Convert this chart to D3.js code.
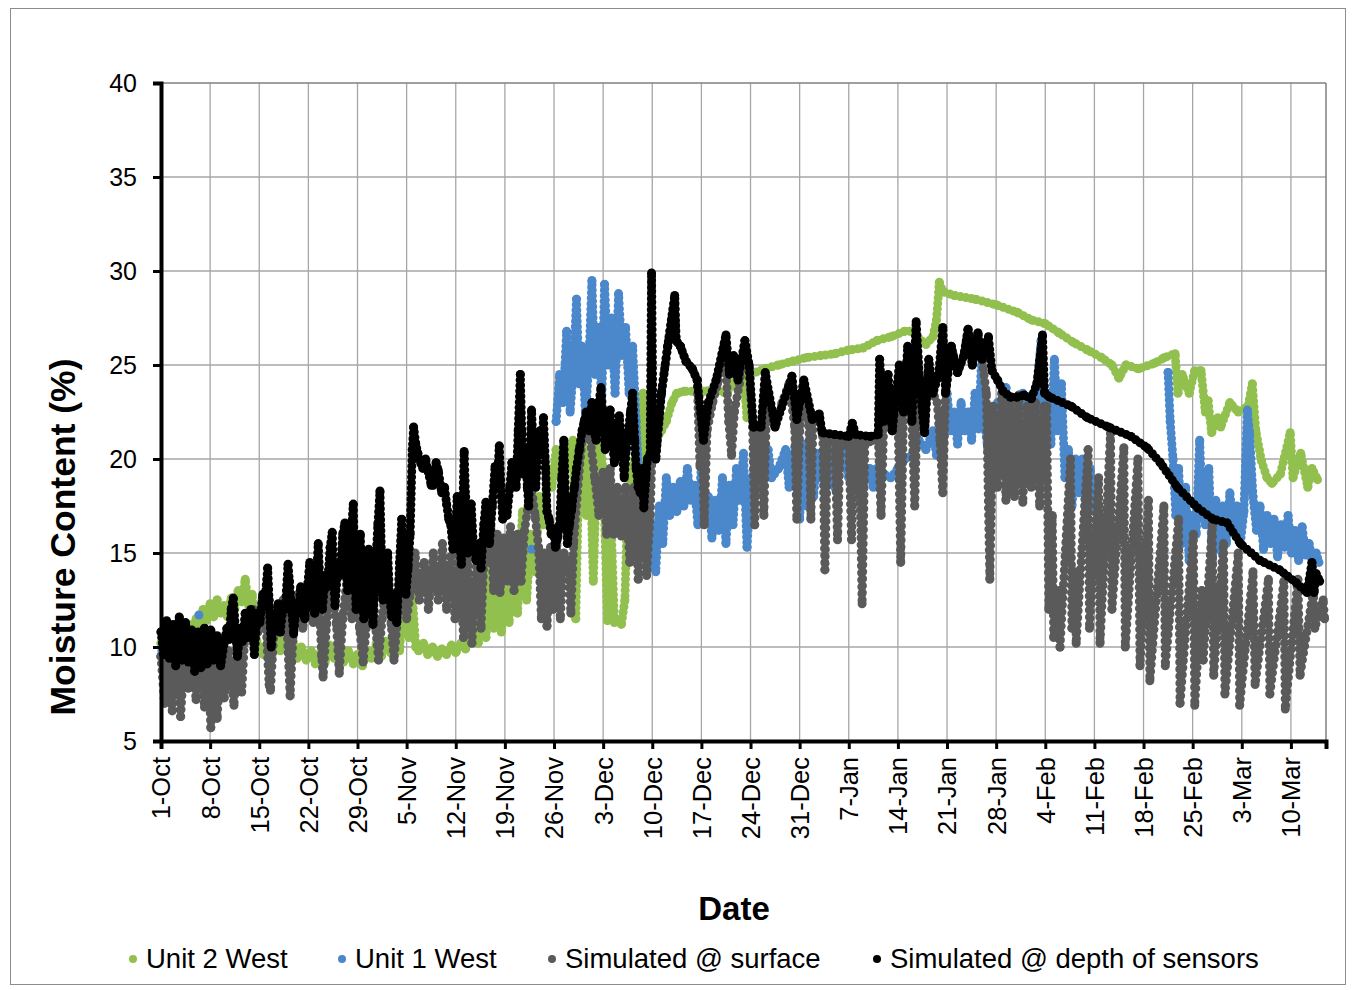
<!DOCTYPE html>
<html>
<head>
<meta charset="utf-8">
<script src="https://cdn.jsdelivr.net/npm/d3@7"></script>
<style>
  body { margin: 0; background: #fff; }
  svg { font-family: Arial, "Liberation Sans", sans-serif; }
</style>
</head>
<body>
<div id="chart"></div>
<script>
// days since 1-Oct, moisture content (%)
var tickLabels = ["1-Oct", "8-Oct", "15-Oct", "22-Oct", "29-Oct", "5-Nov", "12-Nov", "19-Nov", "26-Nov",
  "3-Dec", "10-Dec", "17-Dec", "24-Dec", "31-Dec", "7-Jan", "14-Jan", "21-Jan", "28-Jan", "4-Feb",
  "11-Feb", "18-Feb", "25-Feb", "3-Mar", "10-Mar"];
var yTicks = [5, 10, 15, 20, 25, 30, 35, 40];

var unit2West = [[0,10.2],[0.5,9.7],[1,10.3],[1.5,9.5],[2,10.6],[2.5,9.8],[3,10.8],[3.5,10],[4,11.2],[4.5,10.4],
  [5,11.5],[5.5,10.8],[6,12],[6.5,11.4],[7,12.3],[7.5,11.6],[8,12.5],[8.5,11.8],[9,12.2],[9.5,11.6],[10,12.6],
  [10.5,12],[11,13],[11.5,12.4],[12,13.6],[12.5,12.2],[13,12.8],[13.5,10.5],[14,10],[14.6,9.6],[15.2,10.3],
  [15.8,9.5],[16.4,10.4],[17,9.8],[17.6,11.2],[18.2,9.7],[18.8,10.3],[19.4,9.4],[20,10],[20.7,9.3],[21.4,9.8],
  [22,9.1],[22.7,9.7],[23.4,9.2],[24,10.1],[24.7,9.4],[25.4,10],[26,9.2],[26.7,9.8],[27.4,9.1],[28,9.6],[28.7,9],
  [29.4,9.8],[30,9.4],[30.7,10.2],[31.4,9.5],[32,10.3],[32.7,9.7],[33.4,10.5],[34,9.8],[34.7,13.7],[35.3,10.5],
  [35.8,12.8],[36.3,10],[36.7,9.8],[37.4,10.2],[38,9.6],[38.7,10],[39.4,9.5],[40,9.9],[40.7,9.6],[41.4,10.1],
  [42,9.7],[42.7,10.2],[43.4,9.9],[44,10.3],[44.7,12],[45.2,10.2],[45.8,14.5],[46.3,10.5],[46.9,16.5],[47.4,11],
  [48,14.8],[48.5,10.8],[49,13],[49.6,11.3],[50.2,15],[50.8,11.8],[51.5,17.2],[52.1,12.5],[52.7,16],[53.3,14],
  [53.9,18],[54.5,16.5],[55.1,19.5],[55.7,18.5],[56.3,20.5],[56.9,19.3],[57.5,20.8],[58.1,19.6],[58.7,21],
  [59.1,11.5],[59.6,20.5],[60.1,21.2],[60.6,17],[61.1,20.5],[61.6,13.5],[62.1,19.8],[62.6,21.5],[63.1,18.5],
  [63.6,11.4],[64.1,17],[64.6,11.3],[65.1,11.4],[65.6,11.2],[66.1,12.5],[66.5,18],[67.2,19.5],[67.8,20.6],
  [68.3,19],[68.7,23.5],[69.2,20.5],[69.8,20.3],[70.5,21],[71.3,21.5],[72,22],[72.8,23],[73.5,23.5],[74.5,23.6],
  [76,23.6],[77.5,23.6],[79,23.7],[80.5,23.5],[82,24.2],[83,24.5],[83.5,22.2],[84,24.5],[86,24.8],[88,25],
  [90,25.2],[92,25.4],[94,25.5],[96,25.6],[98,25.8],[100,25.9],[102,26.3],[104,26.5],[106,26.8],[107,26.8],
  [108,26.4],[109,26.1],[110,26.5],[110.5,27.4],[110.9,29.4],[111.4,28.9],[113,28.7],[116,28.5],[119,28.2],
  [122,27.8],[124,27.4],[126,27.2],[128,26.7],[130,26.2],[132,25.8],[134,25.4],[135.5,25],[136.5,24.3],
  [137.5,25],[139.3,24.8],[141.6,25.1],[143,25.4],[144.5,25.6],[144.9,23.5],[145.5,24.5],[146.5,23.5],
  [147.3,24.7],[148.2,24.7],[148.8,22.5],[149.2,23.1],[149.7,21.4],[150.6,22.2],[151,21.7],[152.3,23],
  [153.5,22.5],[154.9,22.8],[155.5,24],[156,21.5],[156.8,19.9],[157.6,19],[158.3,18.7],[159.5,19.2],
  [160.9,21.4],[161.3,19],[162.4,20.3],[163.4,18.5],[164,19.5],[164.8,18.9]];

var unit1West = [[0,9.5],[0.3,10.2],[null,null],[5.4,11.7],[null,null],[25.3,10],[null,null],[52.8,15.2],[null,null],
  [56.3,22],[56.8,24.5],[57.3,23],[57.8,26.8],[58.3,22.5],[58.8,25],[59.2,28.5],[59.6,24],[60,26],[60.5,22.2],
  [61,25.5],[61.4,29.5],[61.8,24.5],[62.3,27],[62.8,23],[63.2,29.3],[63.7,25],[64.2,27.5],[64.7,23.5],[65.2,28.8],
  [65.7,25.5],[66.2,27],[66.7,23.5],[67.2,26],[67.7,22],[68.2,18],[68.6,15.5],[69,17],[69.5,14.2],[70,16.5],
  [70.5,14],[71,17.5],[71.5,15.5],[72,19],[72.5,17],[73,18.5],[73.5,17.2],[74,18.8],[74.5,17.5],[75,19.5],
  [75.5,17.8],[76,18.6],[76.5,16.5],[77,19.7],[77.5,17.5],[78,18],[78.5,15.8],[79,17.8],[79.5,16.2],[80,19],
  [80.5,15.5],[81,18.6],[81.5,16.5],[82,19.5],[82.5,17.8],[83,20.3],[83.5,15.3],[84,18.5],[84.5,19.5],[85,18.2],
  [86,19.5],[86.5,20.5],[87,19],[88,19.5],[89,20.5],[89.5,18.5],[90,20],[90.5,21],[91,16.8],[91.5,20.8],[92,17.5],
  [92.5,21.2],[93,18],[93.5,20.3],[94,19],[95,20.5],[96,18.5],[97,20.8],[98,19],[99,20],[100,18.6],[101,19.5],
  [101.5,18.5],[102,19.5],[103,19.2],[104,19],[105,19.5],[106,20],[107,20.2],[108,21],[109,20.5],[110,21.5],
  [110.5,20.2],[111,22.5],[111.5,21],[112,23.5],[112.5,21.5],[113,22.5],[113.5,20.8],[114,23],[114.5,21.5],
  [115,22.5],[115.5,21],[116,23.5],[116.5,21.6],[117,26],[117.3,22],[117.8,20.6],[118.2,18.9],[118.6,21],
  [119.2,23],[119.8,20.2],[120.4,23.8],[121,20.5],[121.6,23.2],[122.2,19.8],[122.8,23.5],[123.4,19.3],[124,23],
  [124.6,20.5],[125,24.5],[125.4,26.3],[125.8,21],[126.3,23.5],[126.8,20.8],[127.3,25.3],[127.8,21.5],[128.3,24],
  [128.8,19],[129.3,20.5],[129.8,17.5],[130.3,20],[130.8,18.2],[131.3,20],[131.8,17],[132.4,19.5],[133,17.5],
  [null,null],
  [143.5,24.6],[143.8,22],[144.2,20],[144.6,17],[145,19.5],[145.5,15.5],[146,18.5],[146.5,14.6],[147,17],
  [147.5,16],[148,21],[148.3,18],[148.8,16.5],[149.3,19.5],[149.8,14.5],[150.3,17.8],[150.8,15.2],[151.3,17.5],
  [151.8,15.5],[152.3,18.2],[152.8,16.5],[153.3,17.5],[153.8,15.5],[154.3,17.2],[154.8,22.6],[155.1,21.4],
  [155.6,18],[156.1,16.2],[156.6,17.5],[157.1,15.2],[157.6,17],[158.1,15.5],[158.6,16.8],[159.1,14.8],
  [159.6,16.5],[160.1,15.3],[160.6,17],[161.1,15],[161.6,16.2],[162.1,14.6],[162.6,16.4],[163.1,14.9],
  [163.6,15.5],[164.1,14.4],[164.6,15],[165,14.5]];

var simSurface = [[0,9.5],[0.5,7],[1,9.8],[1.6,6.6],[2.2,10],[2.8,6.3],[3.3,9.5],[3.9,7.8],[4.4,9.6],[5,7.2],
  [5.6,9.8],[6.2,6.8],[6.7,9.5],[7.1,5.7],[7.6,9.4],[8,6.2],[8.5,9.6],[9,7.3],[9.6,9.8],[10.4,6.9],[10.9,10.5],
  [11.5,7.6],[12,11],[12.6,10.5],[13.2,12],[13.8,10.8],[14.4,12.5],[15,11],[15.4,8],[15.6,7.7],[16.2,11.5],
  [16.8,10.8],[17.4,12.5],[18,10.7],[18.4,7.4],[18.8,10.5],[19.5,12.8],[20.2,11],[21,13],[21.7,11.3],[22.4,13.5],
  [22.9,9.5],[23.1,8.4],[23.6,11.2],[24.3,13.5],[25,11.2],[25.4,8.6],[25.9,11.5],[26.6,14],[27.2,11.5],
  [27.8,13.8],[28.3,11],[28.8,9.2],[29.3,11.2],[30,13.5],[30.6,11],[31,9.3],[31.5,11.5],[32.2,13.8],[32.8,11.2],
  [33.2,9.3],[33.8,12],[34.4,14],[35,11.5],[35.6,13],[36.2,15],[36.8,12.5],[37.5,14.5],[38.1,12],[38.8,15],
  [39.5,12.5],[40.1,15.5],[40.7,12],[41.3,14.8],[41.9,11.5],[42.5,15.3],[43.1,10.5],[43.7,15],[44.3,10.2],
  [45,14.6],[45.6,11],[46.1,15.5],[46.5,14.5],[47,16.4],[47.4,13],[47.9,16],[48.3,12.9],[48.8,15.8],[49.3,13.5],
  [49.8,16.4],[50.3,13],[50.8,16],[51.3,13.5],[51.8,16.2],[52.3,17.5],[52.8,18.5],[53.3,17],[53.8,15.3],
  [54.2,11.5],[54.6,15],[55,11.1],[55.5,15.3],[55.9,12],[56.4,15.5],[56.9,11.5],[57.4,15],[58,14.6],[58.4,11.8],
  [58.8,15.5],[59.5,19],[60,21],[60.6,22],[61.2,21],[61.8,19],[62.4,17],[63,19.3],[63.5,16],[64,19.5],[64.5,16],
  [65,18.5],[65.6,15.9],[66.2,18.5],[66.8,14.5],[67.4,18.5],[68,13.6],[68.6,18],[69.2,13.8],[69.7,17],[70.1,22],
  [70.5,20],[71.3,23.5],[72.2,26],[73.2,28.5],[73.4,26.3],[74,26],[74.8,25.2],[75.7,24.8],[76.4,24.2],
  [76.8,19.6],[77.1,21],[77.4,16.5],[77.8,21.5],[78.6,23],[79.3,24],[80.3,26.2],[80.9,22],[81.3,20.2],
  [81.7,22.5],[82.4,24],[83.2,26],[83.8,24.8],[84.3,21.7],[84.6,16.5],[85,21.5],[85.5,21.7],[85.9,17],[86.3,23],
  [87.5,21.7],[88.5,23],[89.5,24],[90.3,21.7],[90.6,16.8],[91,21.5],[91.6,24],[92.3,22],[92.6,16.8],[92.9,22],
  [93.8,22.2],[94.3,21.2],[94.6,14.1],[95,21],[96,21],[96.4,15.7],[96.8,21],[98,20.8],[98.4,15.7],[98.8,21],
  [99.5,21],[99.9,12.3],[100.3,20.8],[101.5,21],[102.2,21.2],[102.6,17],[103,22],[104.2,21.5],[105,22.6],
  [105.4,14.5],[105.8,22.5],[106.4,25.5],[107,22],[107.4,17.5],[107.8,23.5],[108.8,21.4],[109.4,25],[110,23.5],
  [110.6,23],[111,21],[111.4,18.2],[111.8,23.5],[112.6,26],[113.5,24.6],[114.4,25.5],[115,26.9],[115.6,25],
  [116.4,26.7],[117,25.3],[117.6,23.5],[118.1,13.6],[118.6,22.8],[119.2,18.5],[119.8,23.5],[120.4,17.8],[121,23],
  [121.6,18],[122.2,23.4],[122.8,17.7],[123.4,22.8],[124,18.5],[124.6,23],[125.2,17.5],[125.8,22.8],[126.2,22.8],
  [126.5,12],[127,17],[127.2,10.5],[128,13],[128.1,10],[129.6,20],[129.8,11],[130.3,14],[130.4,10.2],[132.1,20.5],
  [132.3,11],[133.6,19],[133.8,10.2],[135.3,21.4],[135.5,12],[137.2,20.6],[137.4,10],[139.2,20],[139.5,9],
  [140.7,17.8],[140.9,8.2],[142.9,17.5],[143.1,9],[145,16.8],[145.2,7],[147.1,16],[147.3,6.9],[148.3,13],
  [148.5,9.3],[149.8,16.5],[150,8.5],[151.4,15.5],[151.6,7.5],[153.5,15],[153.7,6.9],[155.6,14],[155.9,8],
  [157.8,13.6],[158,7.5],[160,13.5],[160.2,6.7],[162,13.6],[162.3,8.5],[164.2,13],[164.4,11],[165.6,12.5],
  [165.8,11.5]];

var simDepth = [[0,10.8],[0.4,9.6],[0.8,11.4],[1.2,9.4],[1.7,11.2],[2.1,9],[2.6,11.6],[3,9.3],[3.5,11.3],[3.9,9.2],
  [4.4,10.9],[4.8,8.7],[5.3,10.8],[5.7,8.9],[6.2,11],[6.6,9.1],[7.1,10.9],[7.5,9.3],[8,10.6],[8.5,9],[9,10.2],
  [9.4,11],[9.7,10.4],[10,12],[10.3,12.6],[10.6,11],[10.9,9.5],[11.3,11],[11.6,10.3],[12,11.8],[12.4,10.5],
  [12.8,12],[13.1,10.8],[13.3,9.6],[13.7,11.8],[14.1,11.3],[14.5,12.8],[14.8,12.4],[15.2,14.2],[15.4,12.5],
  [15.7,10],[16.1,11.5],[16.4,11],[16.7,12.3],[17,10.8],[17.4,12.2],[17.7,12],[18.1,14.4],[18.3,13.5],[18.6,12],
  [18.9,10.7],[19.3,12.3],[19.6,11.8],[19.9,13.2],[20.2,12],[20.5,11.5],[20.9,13.3],[21.2,14.5],[21.5,12.5],
  [21.9,11.8],[22.2,14],[22.4,15.5],[22.7,13],[23,12],[23.4,13.8],[23.7,13.2],[24.1,15.3],[24.4,16.1],[24.6,13.5],
  [24.8,12.2],[25.2,14.3],[25.5,13.8],[25.9,16],[26.2,16.6],[26.4,14],[26.6,13],[27,15.5],[27.4,17.6],[27.6,14],
  [27.8,12],[28.1,14.2],[28.4,16],[28.6,13],[28.9,11.5],[29.3,13.5],[29.6,15.2],[29.9,12.8],[30.2,11.2],
  [30.6,14.5],[30.9,16.5],[31.2,18.3],[31.4,15],[31.6,12.5],[32,14],[32.3,15],[32.6,12.5],[32.9,11.6],[33.3,12.8],
  [33.6,11.3],[34,14.5],[34.3,16.8],[34.6,13.5],[34.9,12.8],[35.2,14.2],[35.5,16],[35.8,20.5],[36,21.7],
  [36.3,20.8],[36.6,20.3],[37,19.8],[37.3,19.5],[37.7,20],[38.1,19.3],[38.5,18.6],[38.8,18.6],[39.2,19.8],
  [39.5,19.4],[40,18.2],[40.4,18.5],[40.7,17.6],[41,16.8],[41.3,16.5],[41.6,15.2],[41.9,15.5],[42.2,18],[42.5,16],
  [42.8,14.4],[43,17.5],[43.2,20.4],[43.4,18],[43.7,15],[44,16.2],[44.2,17.6],[44.5,15.5],[44.9,14.6],[45.3,15.5],
  [45.6,14.2],[46,16.5],[46.3,17.7],[46.6,16],[46.8,15.5],[47.2,17.5],[47.6,19.6],[47.9,18.5],[48.2,20.7],
  [48.5,18],[48.7,16.8],[49,17.8],[49.3,17],[49.7,18.5],[50,19.8],[50.3,19],[50.6,18.5],[50.9,21.5],[51.2,24.5],
  [51.4,21.5],[51.6,19.2],[51.8,20.5],[52,20.1],[52.2,18.5],[52.4,17.5],[52.6,20.5],[52.8,22.6],[53.1,20],
  [53.4,18.5],[53.7,20.5],[54,21.5],[54.3,20.5],[54.5,22.2],[54.8,19.5],[55,17.2],[55.3,16.8],[55.6,16],
  [55.9,16.3],[56.2,15.3],[56.5,15.8],[56.8,16.5],[57.1,19],[57.4,21],[57.6,18],[57.9,15.5],[58.2,16.5],
  [58.5,17.3],[58.9,18.5],[59.2,19.5],[59.6,20.5],[60,21.5],[60.3,22],[60.6,22.5],[61,21.5],[61.4,23],[61.7,21.5],
  [62,21],[62.4,23],[62.7,23.8],[63,22],[63.3,20.5],[63.7,22],[64,22.6],[64.3,21],[64.6,19.8],[65,21.5],
  [65.3,22.3],[65.7,20.5],[66,19],[66.3,20.5],[66.6,21.5],[66.9,22.5],[67.2,23.5],[67.5,21],[67.7,19.5],[68,18.5],
  [68.3,18.2],[68.6,19.5],[68.8,17.4],[69.1,19],[69.3,20],[69.7,20.3],[69.9,29.9],[70.1,22],[70.5,20],[71.3,23.5],
  [72.2,26],[73.2,28.7],[73.4,26.3],[74,26],[74.8,25.2],[75.7,24.8],[76.4,24.2],[77.3,21],[78,23],[79.1,24.2],
  [80.5,26.6],[81,24.5],[81.6,25.5],[82.2,24.2],[83.2,26.3],[83.8,25],[84.4,21.7],[85.5,21.7],[86.1,24.6],
  [87.5,21.7],[89.9,24.4],[90.6,22.1],[91.6,24.2],[92.8,22.1],[93.8,22.4],[94.2,21.4],[96,21.3],[98,21.2],
  [98.5,21.9],[99,21.3],[101,21.2],[102.2,21.3],[102.4,25.3],[103,22],[103.6,24.5],[104.2,21.5],[105.2,25],
  [105.8,22.5],[106.4,26],[107,22],[107.6,27.3],[108.2,23.5],[108.8,21.4],[109.4,25.3],[110,23.5],[110.8,24.5],
  [111.4,27],[111.8,23.5],[112.6,26],[113.5,24.6],[114.4,25.5],[115,26.9],[115.6,25],[116.4,26.7],[117,25.3],
  [117.9,26.5],[118.4,24.7],[119.2,24.2],[120,23.6],[121,23.3],[122,23.3],[123,23.4],[124,23.2],[124.8,24],
  [125.6,26.6],[125.9,23.5],[126.6,23.3],[129.7,22.8],[132,22.2],[135,21.7],[138.2,21.2],[140.5,20.6],
  [142.4,19.8],[144.8,18.5],[147.7,17.4],[149.9,16.8],[151.9,16.6],[153.8,15.5],[156.6,14.6],[159.4,14.1],
  [161.8,13.4],[163.3,12.9],[164,14.5],[164.3,12.9],[164.6,13.9],[165.1,13.5]];

var seriesNames = ["Unit 2 West", "Unit 1 West", "Simulated @ surface", "Simulated @ depth of sensors"];
var seriesColors = ["#92c04f", "#4a87cb", "#5a5a5a", "#000000"];
var seriesData = [unit2West, unit1West, simSurface, simDepth];
var dotGap = [5.5, 5.5, 7, 5.5];

var width = 1353, height = 990;
var margin = { top: 83, right: 27, bottom: 249, left: 161 };
var w = width - margin.left - margin.right,
  h = height - margin.top - margin.bottom;

var svg = d3.select("#chart").append("svg")
  .attr("width", width)
  .attr("height", height);

// outer frame
svg.append("rect")
  .attr("x", 10.5).attr("y", 8.5)
  .attr("width", 1335).attr("height", 976)
  .attr("fill", "none")
  .attr("stroke", "#8c8c8c")
  .attr("stroke-width", 1);

var g = svg.append("g")
  .attr("transform", "translate(" + margin.left + "," + margin.top + ")");

var x = d3.scaleLinear().domain([0, 166]).range([0, w]);
var y = d3.scaleLinear().domain([5, 40]).range([h, 0]);
var tickDays = tickLabels.map(function (d, i) { return i * 7; });

// grid
g.append("g").selectAll("line").data(tickDays.slice(1)).enter().append("line")
  .attr("x1", function (d) { return x(d); }).attr("x2", function (d) { return x(d); })
  .attr("y1", 0).attr("y2", h)
  .attr("stroke", "#a6a6a6").attr("stroke-width", 1.3);
g.append("g").selectAll("line").data(yTicks.slice(1)).enter().append("line")
  .attr("x1", 0).attr("x2", w)
  .attr("y1", function (d) { return y(d); }).attr("y2", function (d) { return y(d); })
  .attr("stroke", function (d) { return d == 40 ? "#7f7f7f" : "#a6a6a6"; })
  .attr("stroke-width", 1.3);
g.append("line")
  .attr("x1", w).attr("x2", w).attr("y1", 0).attr("y2", h)
  .attr("stroke", "#7f7f7f").attr("stroke-width", 1.5);

// series: hourly readings shown as dense dots
var line = d3.line()
  .defined(function (d) { return d[1] != null; })
  .x(function (d) { return x(d[0]); })
  .y(function (d) { return y(d[1]); });

seriesData.forEach(function (data, i) {
  var s = g.append("g");
  s.append("path")
    .datum(data)
    .attr("fill", "none")
    .attr("stroke", seriesColors[i])
    .attr("stroke-width", 9)
    .attr("stroke-linecap", "round")
    .attr("stroke-dasharray", "0 " + dotGap[i])
    .attr("d", line);
  s.selectAll("circle").data(data.filter(function (d) { return d[1] != null; }))
    .enter().append("circle")
    .attr("cx", function (d) { return x(d[0]); })
    .attr("cy", function (d) { return y(d[1]); })
    .attr("r", 4.5)
    .attr("fill", seriesColors[i]);
});

// axes
var xAxis = g.append("g")
  .attr("transform", "translate(0," + h + ")")
  .call(d3.axisBottom(x).tickValues(tickDays).tickSize(8).tickFormat(function (d, i) { return tickLabels[i]; }));
xAxis.select(".domain").attr("stroke", "#000").attr("stroke-width", 4);
xAxis.selectAll(".tick line").attr("stroke", "#000").attr("stroke-width", 3);
xAxis.selectAll(".tick text")
  .attr("font-size", 25.5)
  .attr("fill", "#000")
  .attr("text-anchor", "end")
  .attr("transform", "rotate(-90)")
  .attr("x", -16)
  .attr("y", 0)
  .attr("dy", "0.35em");

var yAxis = g.append("g")
  .call(d3.axisLeft(y).tickValues(yTicks).tickSize(8).tickPadding(16));
yAxis.select(".domain").attr("stroke", "#000").attr("stroke-width", 4);
yAxis.selectAll(".tick line").attr("stroke", "#000").attr("stroke-width", 3);
yAxis.selectAll(".tick text").attr("font-size", 25).attr("fill", "#000");

// titles
svg.append("text")
  .attr("transform", "translate(63,537) rotate(-90)")
  .attr("text-anchor", "middle")
  .attr("dy", "0.35em")
  .attr("font-size", 35.5)
  .attr("font-weight", "bold")
  .text("Moisture Content (%)");

svg.append("text")
  .attr("x", 734).attr("y", 920)
  .attr("text-anchor", "middle")
  .attr("font-size", 33)
  .attr("font-weight", "bold")
  .text("Date");

// legend
var legendX = [133, 342, 552, 877];
var legend = svg.append("g");
seriesNames.forEach(function (name, i) {
  legend.append("circle")
    .attr("cx", legendX[i]).attr("cy", 959).attr("r", 4)
    .attr("fill", seriesColors[i]);
  legend.append("text")
    .attr("x", legendX[i] + 13).attr("y", 968)
    .attr("font-size", 27.5)
    .attr("fill", "#000")
    .text(name);
});
</script>
</body>
</html>
